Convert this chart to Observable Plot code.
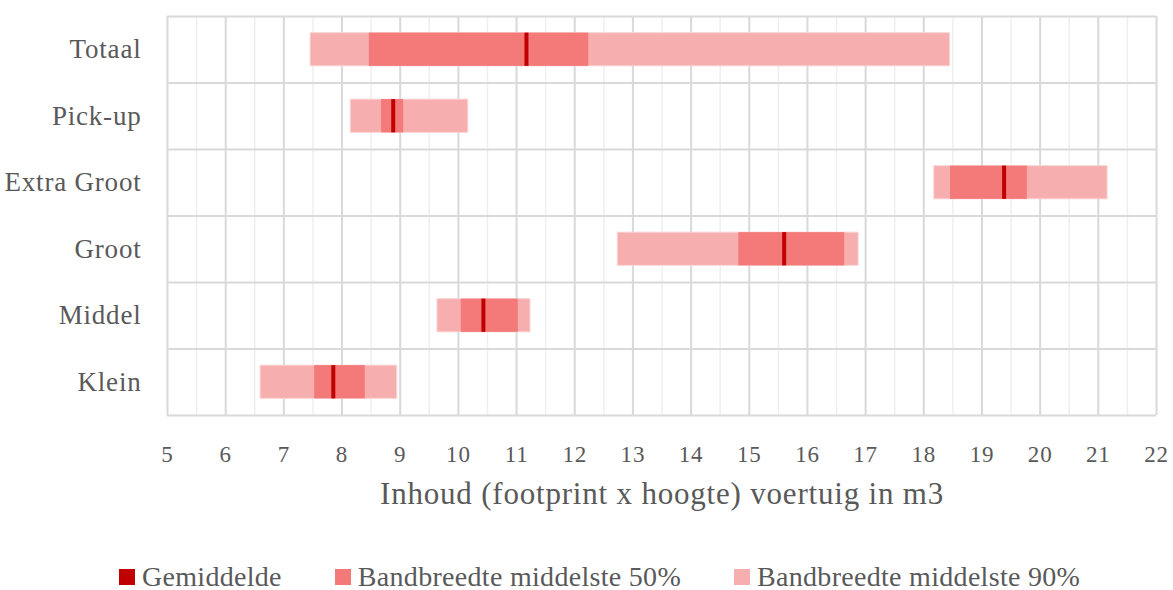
<!DOCTYPE html>
<html>
<head>
<meta charset="utf-8">
<script src="https://cdn.jsdelivr.net/npm/d3@7"></script>
<script src="https://cdn.jsdelivr.net/npm/@observablehq/plot@0.6"></script>
<style>
  body { margin: 0; background: #fff; font-family: "Liberation Serif", serif; color: #595959; }
  #chart svg text { letter-spacing: 0.8px; }
  #legend { display: flex; align-items: center; margin: 32px 0 0 119px; height: 30px; font-size: 28px; letter-spacing: 0.3px; white-space: nowrap; }
  .item { display: flex; align-items: center; margin-right: 53px; }
  .sw { width: 16px; height: 16px; margin-right: 7px; }
</style>
</head>
<body>
<div id="chart"></div>
<div id="legend"></div>
<script>
// Categories (top to bottom)
const categories = ["Totaal", "Pick-up", "Extra Groot", "Groot", "Middel", "Klein"];
// Percentiles and mean (m3)
const p05  = [7.46, 8.15, 18.18, 12.74, 9.64, 6.60];
const p25  = [8.47, 8.68, 18.46, 14.82, 10.05, 7.53];
const mean = [11.17, 8.88, 19.38, 15.60, 10.43, 7.85];
const p75  = [12.24, 9.06, 19.78, 16.64, 11.03, 8.40];
const p95  = [18.45, 10.17, 21.16, 16.88, 11.24, 8.95];
// Axis ticks
const xTicks = [5, 6, 7, 8, 9, 10, 11, 12, 13, 14, 15, 16, 17, 18, 19, 20, 21, 22];
const xLabel = "Inhoud (footprint x hoogte) voertuig in m3";
// Legend
const seriesNames = ["Gemiddelde", "Bandbreedte middelste 50%", "Bandbreedte middelste 90%"];
const seriesColors = ["#c00000", "#f47a7a", "#f7aeae"];

const rows = categories.map((c, i) => ({c, i, p05: p05[i], p25: p25[i], mean: mean[i], p75: p75[i], p95: p95[i]}));
const yLo = d => d.i + 0.25, yHi = d => d.i + 0.75;
const minor = d3.range(5.5, 22, 1);
const rowEdges = d3.range(0, categories.length + 1);
const rowCenters = categories.map((c, i) => i + 0.5);

const plot = Plot.plot({
  width: 1173,
  height: 530,
  marginLeft: 167,
  marginRight: 17,
  marginTop: 16,
  marginBottom: 115,
  style: {fontFamily: "Liberation Serif, serif", fontSize: "27px", color: "#595959", background: "#fff"},
  x: {domain: [5, 22], label: null},
  y: {domain: [categories.length, 0], label: null},
  marks: [
    Plot.ruleX(minor, {stroke: "#efefef", strokeWidth: 1.5}),
    Plot.ruleX(xTicks, {stroke: "#d9d9d9", strokeWidth: 2}),
    Plot.ruleY(rowEdges, {stroke: "#d9d9d9", strokeWidth: 2}),
    Plot.rect(rows, {x1: "p05", x2: "p95", y1: yLo, y2: yHi, fill: seriesColors[2], stroke: "#fbd6d6", strokeWidth: 1}),
    Plot.rect(rows, {x1: "p25", x2: "p75", y1: yLo, y2: yHi, fill: seriesColors[1]}),
    Plot.ruleX(rows, {x: "mean", y1: yLo, y2: yHi, stroke: seriesColors[0], strokeWidth: 4}),
    Plot.axisX(xTicks, {tickSize: 0, tickPadding: 30, fontSize: 23, label: null}),
    Plot.axisY(rowCenters, {tickSize: 0, tickPadding: 26, tickFormat: d => categories[Math.floor(d)], label: null}),
    Plot.text([xLabel], {frameAnchor: "bottom", dy: 88, fontSize: 31, fill: "#595959"})
  ]
});
document.getElementById("chart").appendChild(plot);

const legend = document.getElementById("legend");
seriesNames.forEach((name, k) => {
  const it = document.createElement("div");
  it.className = "item";
  const sw = document.createElement("div");
  sw.className = "sw";
  sw.style.background = seriesColors[k];
  const t = document.createElement("span");
  t.textContent = name;
  it.appendChild(sw);
  it.appendChild(t);
  legend.appendChild(it);
});
</script>
</body>
</html>
